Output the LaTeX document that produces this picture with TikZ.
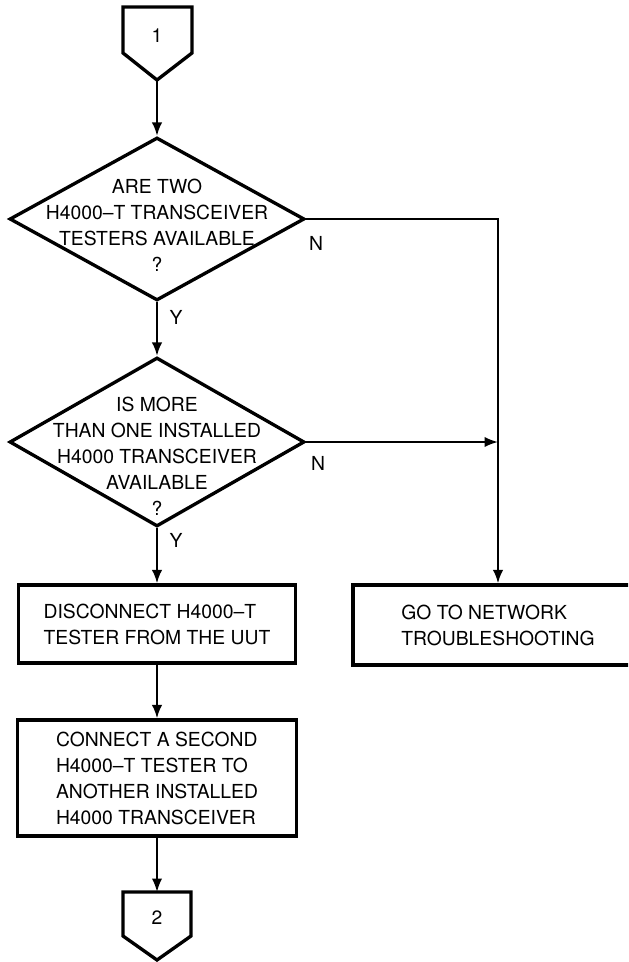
\documentclass[tikz,border=0pt]{standalone}
\usepackage{fontspec}
\setmainfont{TeX Gyre Heros}
\usetikzlibrary{shapes.geometric, arrows.meta, positioning, calc}

\begin{document}
\begin{tikzpicture}[x=0.02cm, y=-0.02cm,
  txt/.style={align=center, font=\fontsize{11}{14.8}\selectfont},
  box/.style={draw, rectangle, line width=1.9pt, align=left, font=\fontsize{11}{14.8}\selectfont},
  decision/.style={draw, diamond, line width=1.9pt, inner sep=0pt},
  onpage/.style={line width=1.9pt, line join=miter},
  flow/.style={line width=1.2pt, -{Latex[length=0.27cm, width=0.21cm]}}]
\useasboundingbox (0,0) rectangle (628,962);
\clip (0,0) rectangle (628,962);

% Connector 1
\draw[onpage] (123,7) -- (192,7) -- (192,53) -- (157,80) -- (123,53) -- cycle;
\node[txt] (c1) at (157,36) {1};
\coordinate (c1tip) at (157,80);

% Decisions
\node[decision, minimum width=5.9cm, minimum height=3.26cm] (d1) at (157,219) {};
\node[txt] (q1) at (157,225) {ARE TWO\\H4000–T TRANSCEIVER\\TESTERS AVAILABLE\\?};
\node[decision, minimum width=5.9cm, minimum height=3.38cm] (d2) at (157,442) {};
\node[txt] (q2) at (157,456) {IS MORE\\THAN ONE INSTALLED\\H4000 TRANSCEIVER\\AVAILABLE\\?};

% Actions
\node[box, minimum width=5.54cm, minimum height=1.56cm] (b1) at (157,624) {DISCONNECT H4000–T\\TESTER FROM THE UUT};
\node[box, minimum width=5.58cm, minimum height=2.32cm] (b2) at (157,778) {CONNECT A SECOND\\H4000–T TESTER TO\\ANOTHER INSTALLED\\H4000 TRANSCEIVER};
\node[box, minimum width=5.8cm, minimum height=1.6cm] (gobox) at (498,625) {GO TO NETWORK\\TROUBLESHOOTING};

% Connector 2
\draw[onpage] (123,892) -- (191,892) -- (191,936) -- (157,960) -- (123,936) -- cycle;
\node[txt] (c2) at (157,918) {2};
\coordinate (c2top) at (157,892);

% Flow lines
\draw[flow] (c1tip) -- (d1.north);
\draw[flow] (d1.south) -- (d2.north);
\node[txt] (y1) at (176,317) {Y};
\draw[flow] (d2.south) -- (b1.north);
\node[txt] (y2) at (176,540) {Y};
\draw[flow] (b1.south) -- (b2.north);
\draw[flow] (b2.south) -- (c2top);
\draw[flow] (d1.east) -| (gobox.north);
\node[txt] (n1) at (316,243) {N};
\draw[flow] (d2.east) -- (d2.east -| gobox.north);
\node[txt] (n2) at (318,463) {N};
\end{tikzpicture}
\end{document}
